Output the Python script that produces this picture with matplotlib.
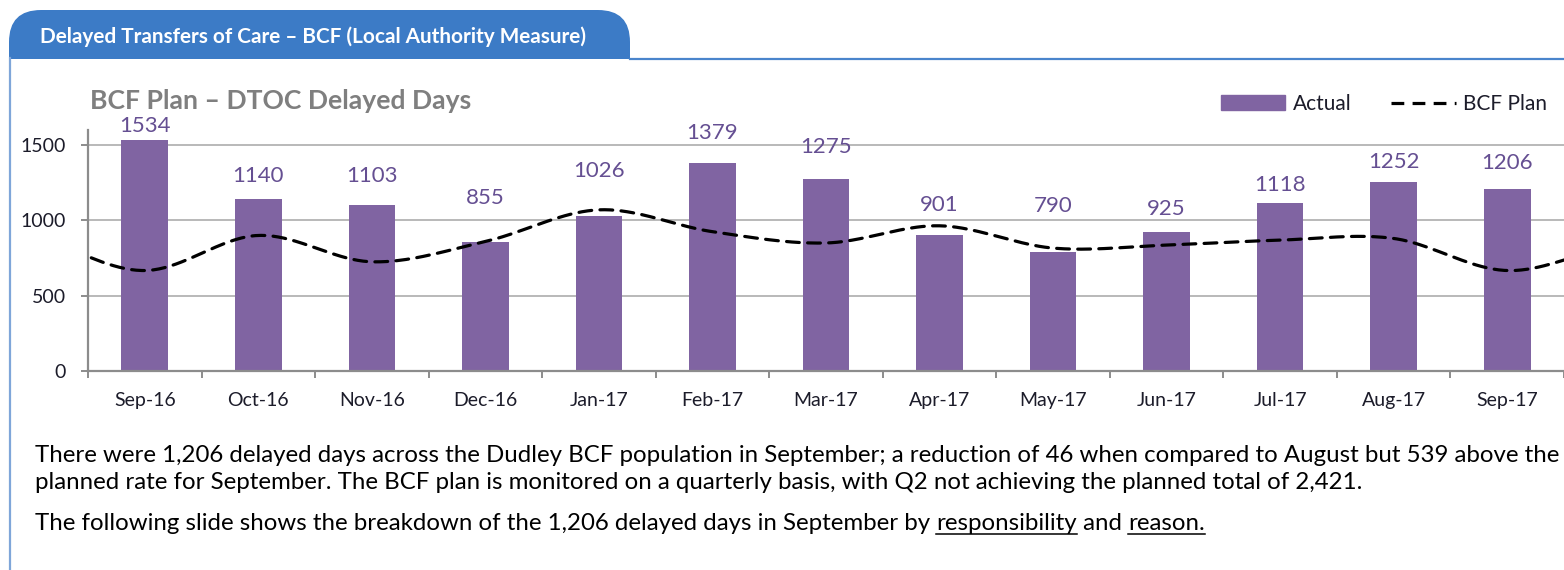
import matplotlib

matplotlib.use('Agg')
import matplotlib.pyplot as plt
import numpy as np
from matplotlib.lines import Line2D
from matplotlib.patches import FancyBboxPatch, Rectangle

plt.rcParams['font.family'] = ['Lato', 'DejaVu Sans']

# Data
months = ['Sep-16', 'Oct-16', 'Nov-16', 'Dec-16', 'Jan-17', 'Feb-17', 'Mar-17',
          'Apr-17', 'May-17', 'Jun-17', 'Jul-17', 'Aug-17', 'Sep-17']
actual = [1534, 1140, 1103, 855, 1026, 1379, 1275, 901, 790, 925, 1118, 1252, 1206]
# plan runs one month either side (Aug-16 .. Oct-17), only partly visible
plan_months = ['Aug-16'] + months + ['Oct-17']
plan = [880, 667, 900, 725, 860, 1070, 925, 850, 964, 816, 836, 869, 880, 667, 833]
# data labels were moved by hand in the original; height (in days) of each label
label_at = [1626, 1294, 1294, 1148, 1327, 1579, 1486, 1101, 1095, 1075, 1234, 1387, 1380]
yticks = [0, 500, 1000, 1500]

header = 'Delayed Transfers of Care \u2013 BCF (Local Authority Measure)'
title = 'BCF Plan \u2013 DTOC Delayed Days'
para1 = ('There were 1,206 delayed days across the Dudley BCF population in September; '
         'a reduction of 46 when compared to August but 539 above the')
para2 = ('planned rate for September. The BCF plan is monitored on a quarterly basis, '
         'with Q2 not achieving the planned total of 2,421.')
para3 = ['The following slide shows the breakdown of the 1,206 delayed days in September by ',
         'responsibility', ' and ', 'reason.']

BAR = '#8064a2'
LABEL = '#654f92'
TAB = '#3c7bc6'
INK = '#1c1c2a'
W, H = 1564, 570


def catmull_rom(y, n=40):
    """Smooth curve through the points, like Excel's smoothed line."""
    y = np.asarray(y, float)
    p = np.concatenate([[y[0]], y, [y[-1]]])
    t = np.linspace(0, 1, n, endpoint=False)
    xs, ys = [], []
    for i in range(len(y) - 1):
        p0, p1, p2, p3 = p[i:i + 4]
        ys.append(0.5 * (2 * p1 + (p2 - p0) * t + (2 * p0 - 5 * p1 + 4 * p2 - p3) * t ** 2
                         + (3 * p1 - p0 - 3 * p2 + p3) * t ** 3))
        xs.append(i + t)
    xs.append([len(y) - 1])
    ys.append([y[-1]])
    return np.concatenate(xs), np.concatenate(ys)


fig = plt.figure(figsize=(W / 100, H / 100), dpi=100)
renderer = fig.canvas.get_renderer()

# background layer in pixel coordinates (y down)
bg = fig.add_axes([0, 0, 1, 1], zorder=-1)
bg.set_xlim(0, W)
bg.set_ylim(H, 0)
bg.axis('off')

# header tab: rounded top corners, cut square at the bottom
tab = FancyBboxPatch((9, 10), 621, 90, boxstyle='round,pad=0,rounding_size=32',
                     facecolor=TAB, edgecolor='none')
bg.add_patch(tab)
cut = Rectangle((0, 0), W, 59, transform=bg.transData)
tab.set_clip_path(cut)
bg.plot([630, W], [59, 59], color='#4a85cc', lw=1.6)
bg.plot([10, 10], [58, H], color='#7fa6d9', lw=1.6)


def fit_text(x, y, s, width_px, size=12, **kw):
    t = bg.text(x, y, s, fontsize=size, **kw)
    w = t.get_window_extent(renderer).width
    t.set_fontsize(size * width_px / w)
    return t


fit_text(40, 37, header, 545, color='white', weight='bold', va='center')
fit_text(90, 101, title, 380, color='#7f7f7f', weight='bold', va='center')

t1 = fit_text(35, 462, para1, 1522, color='black', va='baseline')
fs = t1.get_fontsize()
bg.text(35, 489, para2, fontsize=fs, color='black', va='baseline')

# third line with underlined words
x = 35
base = 530
for i, piece in enumerate(para3):
    t = bg.text(x, base, piece, fontsize=fs, color='black', va='baseline')
    ext = t.get_window_extent(renderer)
    if i in (1, 3):
        bg.plot([x, x + ext.width], [base + 4, base + 4], color='black', lw=1.1)
    # advance by the piece width, trailing spaces included
    probe = bg.text(0, 0, piece + '|', fontsize=fs)
    bar = bg.text(0, 0, '|', fontsize=fs)
    x += probe.get_window_extent(renderer).width - bar.get_window_extent(renderer).width
    probe.remove()
    bar.remove()

# chart
left = 88 / W
ax = fig.add_axes([left, 1 - 371 / H, 1 - left, (371 - 130) / H])
pos = np.arange(len(months))
ax.bar(pos, actual, width=0.41, color=BAR, zorder=2)
for p, v, ly in zip(pos, actual, label_at):
    ax.text(p, ly, str(v), ha='center', va='center', color=LABEL, fontsize=16,
            clip_on=False)

px, py = catmull_rom(plan)
ax.plot(px - 1, py, color='black', lw=2.3, ls=(0, (4, 2.6)),
        dash_capstyle='round', zorder=3)

ax.set_xlim(-0.5, 12.5)
ax.set_ylim(0, 1600)
ax.set_yticks(yticks)
ax.set_xticks(pos)
ax.set_xticklabels(months)
ax.set_xticks(np.arange(-0.5, 12.6, 1), minor=True)
ax.grid(axis='y', color='#a6a6a6', lw=1.1, zorder=0)
for s in ('top', 'right'):
    ax.spines[s].set_visible(False)
for s in ('left', 'bottom'):
    ax.spines[s].set_color('#8c8c8c')
    ax.spines[s].set_linewidth(1.6)
ax.tick_params(axis='x', which='major', length=0, pad=15, labelsize=14, labelcolor=INK)
ax.tick_params(axis='x', which='minor', length=5, width=1.4, color='#8c8c8c')
ax.tick_params(axis='y', length=5, width=1.4, color='#8c8c8c', pad=11,
               labelsize=14, labelcolor=INK)

handles = [Rectangle((0, 0), 1, 1, color=BAR),
           Line2D([], [], color='black', lw=2.3, ls=(0, (4, 2.6)))]
fig.legend(handles, ['Actual', 'BCF Plan'], loc='center right',
           bbox_to_anchor=(1547 / W, 1 - 104 / H), ncol=2, frameon=False,
           fontsize=15, handlelength=3.1, handletextpad=0.35, columnspacing=1.9,
           borderaxespad=0, borderpad=0, labelcolor=INK)

fig.savefig('out.png', dpi=100)
